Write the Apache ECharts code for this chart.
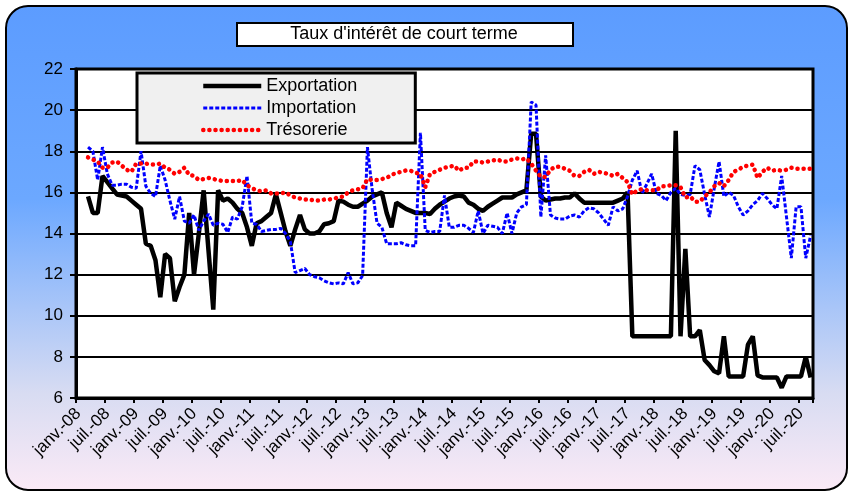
<!DOCTYPE html>
<html>
<head>
<meta charset="utf-8">
<script src="https://cdn.jsdelivr.net/npm/echarts@6/dist/echarts.min.js"></script>
<style>
  html, body { margin: 0; padding: 0; background: #fff; }
  #chart { width: 851px; height: 493px; }
</style>
</head>
<body>
<div id="chart"></div>
<script>
// monthly series, janv.-08 .. sept.-20 (153 months), data starts in mars-08
const monthNames = ["janv.", "févr.", "mars", "avr.", "mai", "juin", "juil.", "août", "sept.", "oct.", "nov.", "déc."];
const years = ["08", "09", "10", "11", "12", "13", "14", "15", "16", "17", "18", "19", "20"];
const monthCount = 153;

const exportation = [null, null,
  15.8, 15.0, 15.0, 16.8, 16.5, 16.2, 15.9, 15.85, 15.8, 15.6,
  15.4, 15.2, 13.5, 13.4, 12.7, 10.9, 13.0, 12.8, 10.7, 11.4,
  12.0, 15.0, 12.0, 14.0, 16.1, 13.2, 10.3, 16.1, 15.6, 15.7,
  15.5, 15.2, 15.0, 14.3, 13.4, 14.5, 14.6, 14.8, 15.0, 15.9,
  15.0, 14.1, 13.4, 14.2, 14.9, 14.2, 14.0, 14.0, 14.1, 14.45,
  14.5, 14.6, 15.6, 15.55, 15.4, 15.3, 15.3, 15.45, 15.6, 15.8,
  15.9, 16.0, 15.0, 14.3, 15.5, 15.35, 15.2, 15.1, 15.0, 15.0,
  15.0, 14.95, 15.2, 15.4, 15.55, 15.7, 15.8, 15.85, 15.8, 15.5,
  15.4, 15.2, 15.1, 15.3, 15.45, 15.6, 15.75, 15.75, 15.75, 15.9,
  16.0, 16.1, 18.85, 18.85, 15.8, 15.6, 15.65, 15.7, 15.7, 15.75,
  15.75, 15.95, 15.7, 15.5, 15.5, 15.5, 15.5, 15.5, 15.5, 15.5,
  15.6, 15.7, 16.0, 9.0, 9.0, 9.0, 9.0, 9.0, 9.0, 9.0,
  9.0, 9.0, 19.0, 9.0, 13.25, 9.0, 9.0, 9.3, 7.85, 7.6,
  7.3, 7.2, 9.0, 7.05, 7.05, 7.05, 7.05, 8.6, 9.0, 7.1,
  7.0, 7.0, 7.0, 7.0, 6.5, 7.05, 7.05, 7.05, 7.05, 8.0,
  7.0
];

const importation = [null, null,
  18.2, 18.0, 16.6, 18.2, 16.9, 16.35, 16.35, 16.4, 16.4, 16.25,
  16.2, 18.0, 16.3, 15.95, 15.8, 17.3, 16.6, 15.6, 14.7, 15.8,
  14.6, 14.5, 14.9, 14.15, 14.6, 14.95, 14.4, 14.5, 14.45, 14.05,
  14.8, 14.7, 15.3, 16.8, 14.5, 14.45, 14.1, 14.15, 14.2, 14.2,
  14.25, 14.0, 13.6, 12.1, 12.2, 12.3, 12.0, 11.9, 11.85, 11.7,
  11.6, 11.55, 11.6, 11.55, 12.1, 11.55, 11.6, 11.95, 18.2, 16.1,
  14.5, 14.3, 13.5, 13.5, 13.5, 13.55, 13.45, 13.4, 13.4, 18.9,
  14.15, 14.05, 14.1, 14.1, 15.85, 14.3, 14.3, 14.4, 14.4, 14.25,
  14.05, 15.1, 14.0, 14.4, 14.35, 14.3, 14.0, 15.0, 14.0, 15.0,
  15.3, 15.4, 20.4, 20.25, 14.8, 17.8, 14.9, 14.75, 14.7, 14.7,
  14.85, 14.9, 14.8, 15.1, 15.25, 15.2, 15.0, 14.7, 14.4, 15.3,
  15.1, 15.2, 15.8, 16.6, 17.05, 15.95, 16.4, 16.9, 15.95, 15.85,
  15.6, 16.0, 16.2, 15.9, 15.85, 15.9, 17.3, 17.1, 15.9, 14.8,
  16.2, 17.5, 15.8, 16.0, 15.85, 15.3, 14.9, 15.1, 15.4, 15.6,
  15.95, 15.7, 15.4, 15.2, 16.8, 14.8, 12.8, 15.3, 15.3, 12.8,
  13.9
];

const tresorerie = [null, null,
  17.7, 17.6, 17.5, 17.2, 17.2, 17.45, 17.5, 17.3, 17.1, 17.0,
  17.4, 17.4, 17.4, 17.35, 17.35, 17.4, 17.2, 17.1, 16.9, 17.0,
  17.2, 16.85, 16.8, 16.6, 16.65, 16.7, 16.65, 16.6, 16.55, 16.55,
  16.55, 16.55, 16.6, 16.35, 16.2, 16.1, 16.05, 16.1, 15.95, 15.95,
  15.95, 16.0, 15.85, 15.75, 15.7, 15.65, 15.65, 15.6, 15.6, 15.65,
  15.65, 15.7, 15.75, 15.8, 16.0, 16.1, 16.15, 16.2, 16.65, 16.6,
  16.6, 16.65, 16.7, 16.85, 16.95, 17.0, 17.07, 17.05, 16.95, 16.9,
  16.25, 16.9, 17.0, 17.1, 17.2, 17.25, 17.3, 17.05, 17.2, 17.2,
  17.5, 17.5, 17.45, 17.5, 17.55, 17.6, 17.5, 17.5, 17.6, 17.65,
  17.6, 17.65, 17.4, 17.05, 16.75, 16.75, 17.1, 17.25, 17.25, 17.15,
  17.05, 16.8, 16.8, 17.0, 17.1, 16.9, 17.0, 16.95, 16.9, 16.8,
  16.9, 16.7, 16.5, 15.9, 16.1, 16.15, 16.1, 16.1, 16.1, 16.3,
  16.3, 16.35, 16.35, 16.25, 15.75, 15.8, 15.55, 15.55, 15.8, 16.0,
  16.3, 16.45, 16.3, 16.6, 17.0, 17.1, 17.25, 17.3, 17.35, 16.7,
  17.0, 17.2, 17.05, 17.1, 17.05, 17.1, 17.2, 17.15, 17.15, 17.15,
  17.15
];

const categories = [];
years.forEach((y) => monthNames.forEach((m) => categories.push(`${m}-${y}`)));
categories.length = monthCount;

const font = '"Liberation Sans", Arial, sans-serif';

const chart = echarts.init(document.getElementById("chart"));

chart.setOption({
  animation: false,
  textStyle: { fontFamily: font },
  graphic: [
    {
      type: "rect",
      left: 5,
      top: 5,
      z: -10,
      shape: { width: 841, height: 484, r: 22 },
      style: {
        fill: new echarts.graphic.LinearGradient(0, 0, 0, 1, [
          { offset: 0, color: "#5C9CFF" },
          { offset: 0.4, color: "#6CA8FF" },
          { offset: 0.62, color: "#A8C5F8" },
          { offset: 0.8, color: "#D8DCF2" },
          { offset: 1, color: "#FBEAF6" },
        ]),
        stroke: "#000",
        lineWidth: 2,
      },
    },
    {
      type: "rect",
      left: 236,
      top: 22,
      z: 10,
      shape: { width: 336, height: 23 },
      style: { fill: "#fff", stroke: "#000", lineWidth: 2 },
    },
    {
      type: "text",
      x: 404,
      y: 34,
      z: 11,
      style: {
        text: "Taux d'intérêt de court terme",
        font: '18px "Liberation Sans", Arial, sans-serif',
        fill: "#000",
        textAlign: "center",
        textVerticalAlign: "middle",
      },
    },
  ],
  legend: {
    orient: "vertical",
    left: 137,
    top: 73,
    itemWidth: 58,
    itemHeight: 14,
    itemGap: 4,
    padding: [4, 58, 4, 64],
    backgroundColor: "#F0F0F0",
    borderColor: "#000",
    borderWidth: 3,
    borderRadius: 0,
    selectedMode: false,
    textStyle: { fontSize: 18, color: "#000", fontFamily: font },
    itemStyle: { opacity: 0, borderWidth: 0 },
    lineStyle: { width: "inherit" },
    data: ["Exportation", "Importation", "Trésorerie"],
  },
  grid: {
    left: 76,
    right: 38,
    top: 69,
    bottom: 95,
    show: true,
    backgroundColor: "#fff",
    borderColor: "#000",
    borderWidth: 3,
  },
  xAxis: {
    type: "category",
    data: categories,
    boundaryGap: true,
    axisLine: { lineStyle: { color: "#000", width: 3 } },
    axisTick: { show: true, interval: 5, length: 5, lineStyle: { color: "#000", width: 2 } },
    axisLabel: { interval: 5, rotate: 45, fontSize: 17, color: "#000", margin: 13, fontFamily: font },
    splitLine: { show: false },
  },
  yAxis: {
    type: "value",
    min: 6,
    max: 22,
    interval: 2,
    axisLine: { show: true, lineStyle: { color: "#000", width: 3 } },
    axisTick: { show: true, length: 6, lineStyle: { color: "#000", width: 2 } },
    axisLabel: { fontSize: 17, color: "#000", margin: 13, fontFamily: font },
    splitLine: { show: true, lineStyle: { color: "#000", width: 2 } },
  },
  series: [
    {
      name: "Exportation",
      type: "line",
      data: exportation,
      symbol: "none",
      silent: true,
      lineStyle: { color: "#000", width: 4.5 },
      itemStyle: { color: "#000" },
    },
    {
      name: "Importation",
      type: "line",
      data: importation,
      symbol: "none",
      silent: true,
      lineStyle: { color: "#0000FF", width: 3, type: [4, 2] },
      itemStyle: { color: "#0000FF" },
    },
    {
      name: "Trésorerie",
      type: "line",
      data: tresorerie,
      symbol: "none",
      silent: true,
      lineStyle: { color: "#FF0000", width: 4.5, type: [0.1, 6], cap: "round" },
      itemStyle: { color: "#FF0000" },
    },
  ],
});
</script>
</body>
</html>
